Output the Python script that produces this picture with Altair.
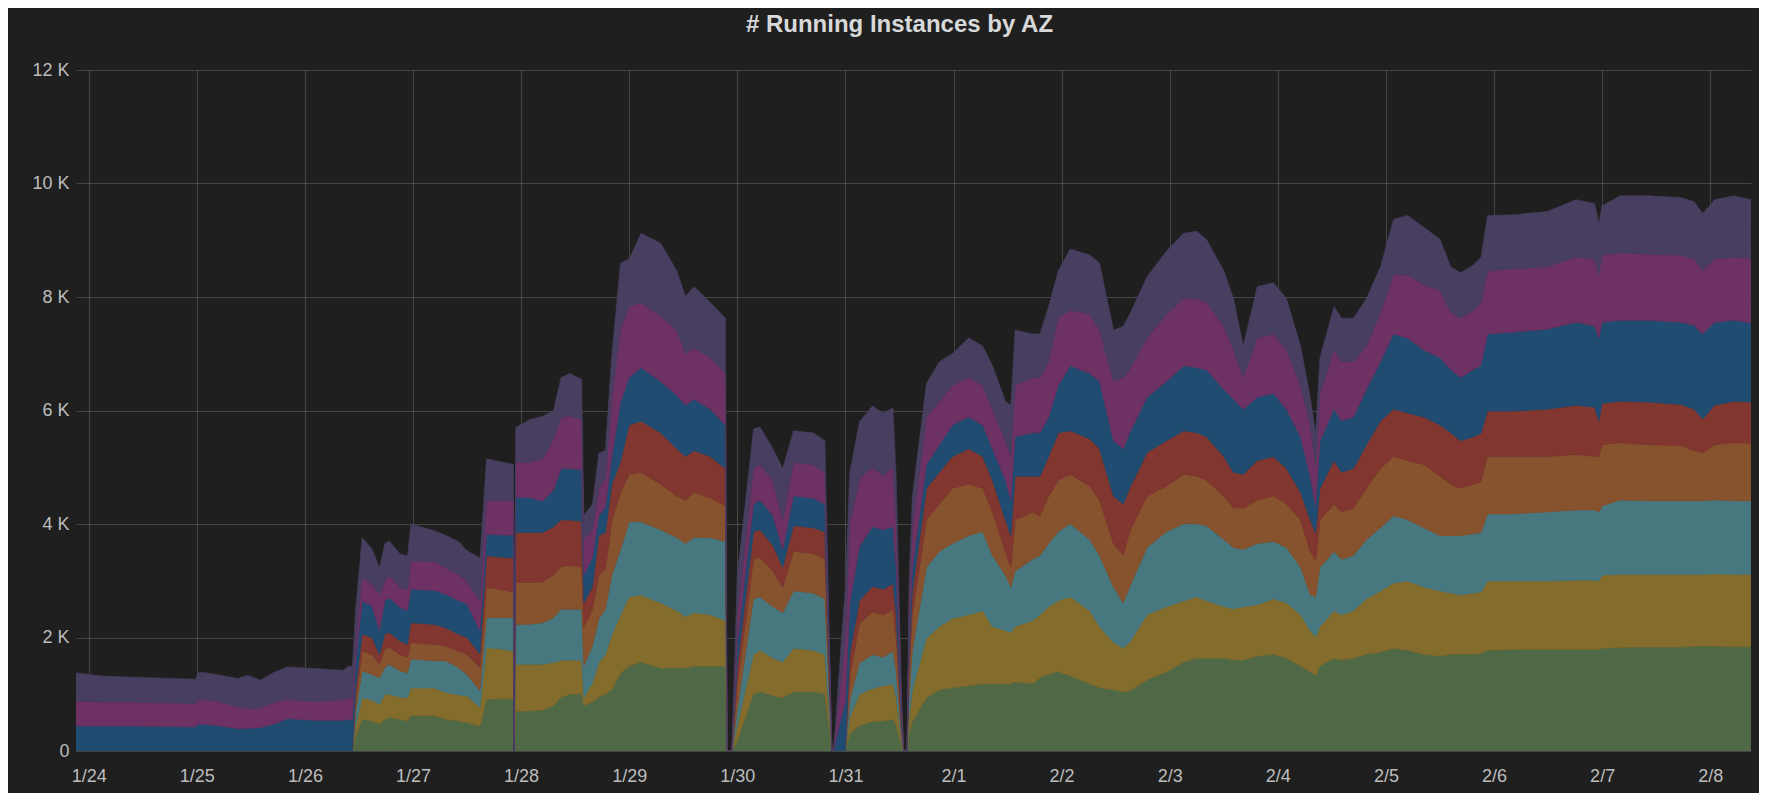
import altair as alt
import pandas as pd

TITLE = "# Running Instances by AZ"
AZ_NAMES = ["AZ 1", "AZ 2", "AZ 3", "AZ 4", "AZ 5", "AZ 6", "AZ 7", "AZ 8"]
# Grafana classic palette at ~50% fill over the dark panel
AZ_COLORS = ["#4F6946", "#846C2C", "#477880", "#87522E", "#813630", "#1F4C70", "#6D3164", "#483E60"]

# sample times, in days after 1/24 00:00
DAY = [-0.117, 0.14, 0.36, 0.99, 1.01, 1.07, 1.22, 1.38, 1.47, 1.59,
       1.72, 1.84, 2.09, 2.36, 2.40, 2.44, 2.47, 2.53, 2.62, 2.69,
       2.74, 2.78, 2.88, 2.95, 2.98, 3.20, 3.30, 3.42, 3.50, 3.62,
       3.68, 3.80, 3.93, 3.935, 3.95, 4.08, 4.20, 4.30, 4.37, 4.45,
       4.56, 4.58, 4.66, 4.72, 4.78, 4.84, 4.92, 5.00, 5.11, 5.29,
       5.44, 5.52, 5.60, 5.75, 5.89, 5.905, 5.95, 6.00, 6.15, 6.21,
       6.33, 6.42, 6.52, 6.70, 6.81, 6.875, 6.89, 6.95, 7.00, 7.04,
       7.13, 7.25, 7.35, 7.44, 7.47, 7.52, 7.54, 7.57, 7.59, 7.62,
       7.75, 7.87, 7.99, 8.14, 8.27, 8.36, 8.48, 8.53, 8.57, 8.73,
       8.80, 8.88, 8.97, 9.08, 9.26, 9.35, 9.48, 9.57, 9.63, 9.79,
       9.97, 10.13, 10.25, 10.34, 10.50, 10.59, 10.68, 10.81, 10.96, 11.08,
       11.21, 11.30, 11.35, 11.39, 11.52, 11.59, 11.70, 11.82, 11.95, 12.07,
       12.20, 12.35, 12.50, 12.60, 12.69, 12.81, 12.88, 12.94, 13.19, 13.49,
       13.76, 13.93, 13.97, 14.00, 14.17, 14.42, 14.73, 14.85, 14.93, 15.04,
       15.22, 15.377]

# upper edge of each AZ's band in the stack (instances)
TOP_AZ1 = [0, 0, 0, 0, 0, 0, 0, 0, 0, 0,
           0, 0, 0, 0, 0, 0, 250, 560, 530, 470,
           560, 590, 560, 530, 620, 620, 560, 530, 500, 440,
           910, 920, 920, 0, 700, 706, 720, 800, 950, 1000,
           1010, 800, 870, 950, 1000, 1090, 1370, 1497, 1567, 1462,
           1462, 1462, 1497, 1497, 1497, 0, 0, 180, 1010, 1045,
           975, 940, 1045, 1045, 1010, 0, 0, 0, 0, 300,
           450, 520, 530, 560, 450, 80, 0, 0, 300, 522,
           940, 1079, 1114, 1149, 1184, 1184, 1184, 1184, 1219, 1184,
           1288, 1358, 1400, 1323, 1184, 1114, 1079, 1045, 1060, 1253,
           1393, 1567, 1637, 1637, 1637, 1602, 1602, 1671, 1706, 1637,
           1497, 1393, 1330, 1497, 1637, 1602, 1637, 1706, 1741, 1811,
           1776, 1706, 1671, 1706, 1706, 1706, 1720, 1776, 1790, 1790,
           1790, 1790, 1790, 1811, 1825, 1832, 1832, 1846, 1846, 1846,
           1839, 1839]
TOP_AZ2 = [0, 0, 0, 0, 0, 0, 0, 0, 0, 0,
           0, 0, 0, 0, 0, 0, 450, 940, 900, 820,
           1000, 1000, 950, 940, 1110, 1110, 1030, 990, 970, 770,
           1820, 1800, 1760, 0, 1530, 1529, 1530, 1560, 1600, 1600,
           1600, 940, 1200, 1560, 1700, 2050, 2400, 2716, 2751, 2612,
           2472, 2368, 2437, 2403, 2298, 0, 0, 450, 1706, 1776,
           1637, 1567, 1811, 1776, 1706, 0, 0, 0, 0, 600,
           1000, 1100, 1150, 1180, 950, 150, 0, 0, 600, 1079,
           1985, 2194, 2333, 2403, 2472, 2194, 2124, 2089, 2194, 2298,
           2403, 2542, 2650, 2716, 2472, 2194, 1915, 1811, 1915, 2403,
           2542, 2646, 2716, 2646, 2542, 2507, 2542, 2576, 2681, 2612,
           2403, 2124, 2010, 2194, 2472, 2403, 2472, 2681, 2820, 2960,
           2995, 2890, 2820, 2786, 2751, 2786, 2800, 2995, 2995, 2995,
           3010, 3010, 2995, 3099, 3113, 3113, 3113, 3113, 3113, 3120,
           3113, 3113]
TOP_AZ3 = [0, 0, 0, 0, 0, 0, 0, 0, 0, 0,
           0, 0, 0, 0, 0, 0, 700, 1410, 1350, 1290,
           1470, 1530, 1410, 1380, 1620, 1590, 1590, 1470, 1350, 1060,
           2350, 2350, 2350, 0, 2230, 2234, 2260, 2350, 2500, 2500,
           2500, 1500, 1850, 2330, 2500, 3100, 3550, 4039, 4039, 3900,
           3761, 3656, 3761, 3761, 3691, 0, 0, 730, 2681, 2716,
           2542, 2437, 2820, 2786, 2681, 0, 0, 0, 0, 900,
           1550, 1700, 1650, 1760, 1400, 250, 0, 0, 1000, 1776,
           3238, 3517, 3656, 3795, 3865, 3447, 3099, 2890, 3169, 3378,
           3447, 3656, 3865, 4004, 3726, 3447, 2890, 2612, 2890, 3586,
           3865, 4004, 4004, 3970, 3726, 3586, 3552, 3656, 3691, 3586,
           3238, 2751, 2720, 3238, 3517, 3378, 3447, 3726, 3935, 4144,
           4074, 3935, 3795, 3795, 3795, 3830, 3850, 4178, 4178, 4213,
           4248, 4248, 4213, 4318, 4422, 4408, 4408, 4408, 4408, 4422,
           4408, 4408]
TOP_AZ4 = [0, 0, 0, 0, 0, 0, 0, 0, 0, 0,
           0, 0, 0, 0, 0, 0, 900, 1760, 1700, 1530,
           1800, 1820, 1700, 1650, 1910, 1880, 1850, 1760, 1700, 1470,
           2880, 2850, 2800, 0, 2970, 2969, 2980, 3100, 3250, 3270,
           3240, 2190, 2500, 3100, 3200, 4070, 4550, 4875, 4910, 4701,
           4492, 4422, 4561, 4457, 4318, 0, 0, 1150, 3378, 3412,
           3169, 2890, 3517, 3482, 3378, 0, 0, 0, 0, 1300,
           2250, 2450, 2400, 2500, 2000, 350, 0, 0, 1400, 2403,
           4074, 4352, 4631, 4701, 4631, 4213, 3517, 3238, 4074, 4213,
           4144, 4492, 4770, 4875, 4666, 4422, 3656, 3447, 3865, 4492,
           4666, 4875, 4840, 4770, 4492, 4283, 4283, 4422, 4492, 4352,
           4074, 3517, 3360, 4074, 4352, 4213, 4283, 4631, 4979, 5188,
           5118, 5049, 4840, 4701, 4631, 4701, 4750, 5188, 5188, 5188,
           5223, 5188, 5188, 5397, 5432, 5397, 5383, 5292, 5258, 5397,
           5432, 5425]
TOP_AZ5 = [0, 0, 0, 0, 0, 0, 0, 0, 0, 0,
           0, 0, 0, 0, 0, 0, 1100, 2060, 2000, 1700,
           2060, 2090, 1940, 1880, 2260, 2230, 2170, 2060, 2000, 1710,
           3440, 3420, 3400, 0, 3850, 3851, 3850, 3950, 4070, 4070,
           4050, 2610, 2900, 3800, 3850, 4700, 5100, 5745, 5815, 5606,
           5327, 5188, 5293, 5188, 4979, 0, 0, 1500, 3865, 3900,
           3621, 3238, 3970, 3935, 3865, 0, 0, 0, 0, 1700,
           2650, 2900, 2850, 2950, 2400, 450, 0, 0, 1700, 2820,
           4631, 4910, 5188, 5327, 5188, 4770, 4074, 3795, 4840, 4840,
           4840, 5188, 5606, 5641, 5502, 5327, 4492, 4352, 4631, 5258,
           5467, 5641, 5606, 5536, 5188, 4910, 4875, 5118, 5188, 4979,
           4561, 4074, 3840, 4631, 5118, 4910, 4979, 5397, 5815, 6024,
           5955, 5885, 5745, 5606, 5467, 5536, 5600, 5990, 5990, 6024,
           6093, 6058, 5815, 6128, 6163, 6149, 6107, 6024, 5850, 6093,
           6163, 6149]
TOP_AZ6 = [441, 441, 441, 424, 470, 470, 441, 394, 400, 410,
           482, 570, 541, 541, 553, 553, 1600, 2640, 2560, 2120,
           2650, 2700, 2530, 2470, 2850, 2830, 2760, 2650, 2590, 2120,
           3820, 3810, 3800, 0, 4470, 4469, 4400, 4600, 4980, 4980,
           4950, 3100, 3400, 4150, 4300, 5190, 6150, 6581, 6755, 6511,
           6267, 6093, 6198, 6024, 5745, 0, 0, 1900, 4352, 4422,
           4144, 3552, 4492, 4457, 4352, 0, 0, 500, 870, 2600,
           3600, 3950, 3900, 3950, 3200, 600, 0, 0, 2100, 3238,
           5049, 5397, 5745, 5885, 5745, 5327, 4770, 4422, 5536, 5606,
           5606, 5885, 6442, 6790, 6651, 6511, 5467, 5327, 5606, 6233,
           6511, 6790, 6755, 6720, 6372, 6200, 6024, 6233, 6302, 6024,
           5536, 4840, 4300, 5467, 6024, 5815, 5885, 6372, 6860, 7347,
           7277, 7068, 6929, 6720, 6581, 6720, 6800, 7347, 7382, 7431,
           7556, 7486, 7277, 7556, 7591, 7591, 7556, 7500, 7347, 7556,
           7591, 7542]
TOP_AZ7 = [882, 865, 865, 835, 906, 906, 865, 776, 747, 760,
           865, 906, 865, 906, 941, 941, 1900, 3060, 2940, 2760,
           3000, 3090, 2880, 2850, 3350, 3340, 3230, 3110, 2980, 2650,
           4410, 4420, 4400, 0, 5090, 5086, 5150, 5500, 5880, 5900,
           5850, 3730, 3900, 4630, 4800, 6230, 7450, 7834, 7904, 7660,
           7416, 7000, 7103, 6929, 6651, 0, 0, 2400, 4979, 5049,
           4770, 4074, 5084, 5049, 4910, 0, 0, 1100, 2000, 4000,
           4800, 5000, 4850, 5000, 4000, 750, 0, 0, 2600, 3935,
           5885, 6163, 6442, 6581, 6442, 6024, 5467, 5188, 6442, 6581,
           6581, 6860, 7625, 7765, 7695, 7416, 6511, 6581, 6720, 7277,
           7695, 7974, 7974, 7904, 7486, 7068, 6581, 7277, 7346, 7068,
           6442, 5745, 5000, 6302, 7068, 6860, 6860, 7138, 7730, 8392,
           8392, 8218, 8113, 7730, 7625, 7765, 7900, 8461, 8496, 8531,
           8705, 8670, 8392, 8740, 8775, 8754, 8740, 8670, 8461, 8670,
           8705, 8684]
TOP_AZ8 = [1376, 1318, 1306, 1265, 1382, 1382, 1335, 1276, 1335, 1247,
           1394, 1482, 1453, 1423, 1494, 1494, 2500, 3760, 3560, 3230,
           3650, 3700, 3470, 3440, 4000, 3880, 3800, 3690, 3530, 3400,
           5150, 5100, 5050, 0, 5700, 5840, 5900, 6000, 6580, 6650,
           6550, 4150, 4350, 5250, 5300, 7000, 8600, 8670, 9123, 8949,
           8461, 8009, 8183, 7904, 7625, 0, 0, 3100, 5676, 5710,
           5327, 4979, 5641, 5606, 5467, 0, 0, 1600, 2900, 4900,
           5800, 6080, 5950, 6050, 4800, 900, 0, 0, 3100, 4492,
           6477, 6860, 7000, 7277, 7138, 6790, 6163, 6093, 7416, 7347,
           7350, 7834, 8461, 8844, 8740, 8600, 7416, 7486, 7695, 8357,
           8809, 9123, 9158, 9018, 8461, 7974, 7138, 8183, 8253, 7974,
           7138, 6233, 5600, 6929, 7834, 7625, 7625, 7974, 8531, 9367,
           9437, 9227, 9018, 8531, 8426, 8566, 8700, 9437, 9450, 9506,
           9715, 9645, 9297, 9610, 9784, 9784, 9750, 9680, 9471, 9715,
           9784, 9715]

TOPS = [TOP_AZ1, TOP_AZ2, TOP_AZ3, TOP_AZ4, TOP_AZ5, TOP_AZ6, TOP_AZ7, TOP_AZ8]
Y_TICKS = [0, 2000, 4000, 6000, 8000, 10000, 12000]

base = pd.Timestamp("2018-01-24")
rows = []
for k, name in enumerate(AZ_NAMES):
    for i, d in enumerate(DAY):
        lo = TOPS[k - 1][i] if k > 0 else 0
        rows.append({"time": base + pd.Timedelta(days=d), "az": name,
                     "lo": lo, "hi": TOPS[k][i]})
df = pd.DataFrame(rows)

day_ticks = [alt.DateTime(year=t.year, month=t.month, date=t.day)
             for t in pd.date_range("2018-01-24", "2018-02-08", freq="D")]
x_start = alt.DateTime(year=2018, month=1, date=23, hours=21, minutes=11)
x_end = alt.DateTime(year=2018, month=2, date=8, hours=9, minutes=3)

FONT = "Liberation Sans"
color_scale = alt.Scale(domain=AZ_NAMES, range=AZ_COLORS)

chart = alt.Chart(df).mark_area(clip=True, strokeWidth=0.6, interpolate="linear").encode(
    x=alt.X("time:T", title=None,
            scale=alt.Scale(domain=[x_start, x_end]),
            axis=alt.Axis(values=day_ticks, format="%-m/%-d", labelPadding=16,
                          labelFlush=False)),
    y=alt.Y("hi:Q", title=None,
            scale=alt.Scale(domain=[0, 12000], nice=False),
            axis=alt.Axis(values=Y_TICKS, labelPadding=7,
                          labelExpr="datum.value == 0 ? '0' : (datum.value / 1000) + ' K'")),
    y2="lo:Q",
    color=alt.Color("az:N", scale=color_scale, legend=None),
    stroke=alt.Stroke("az:N", scale=color_scale, legend=None),
).properties(
    width=1675,
    height=681,
    title=alt.TitleParams(TITLE, fontSize=24, fontWeight="bold", color="#d8d9da",
                          font=FONT, anchor="middle", frame="group", offset=24, dx=-14),
    padding={"left": 68, "top": 62, "right": 8, "bottom": 42},
    autosize=alt.AutoSizeParams(type="none"),
    background="#1f1f1f",
    usermeta={"embedOptions": {"defaultStyle": "body{background:#1f1f1f;}"}},
).configure_view(
    stroke=None
).configure_axis(
    labelFont=FONT, labelFontSize=18, labelColor="#bdbdbd",
    grid=True, gridColor="#ffffff", gridOpacity=0.17, gridWidth=1,
    domain=False, ticks=False, tickSize=0, zindex=1,
)

chart.save("out.html", embed_options={"renderer": "svg", "actions": False})
